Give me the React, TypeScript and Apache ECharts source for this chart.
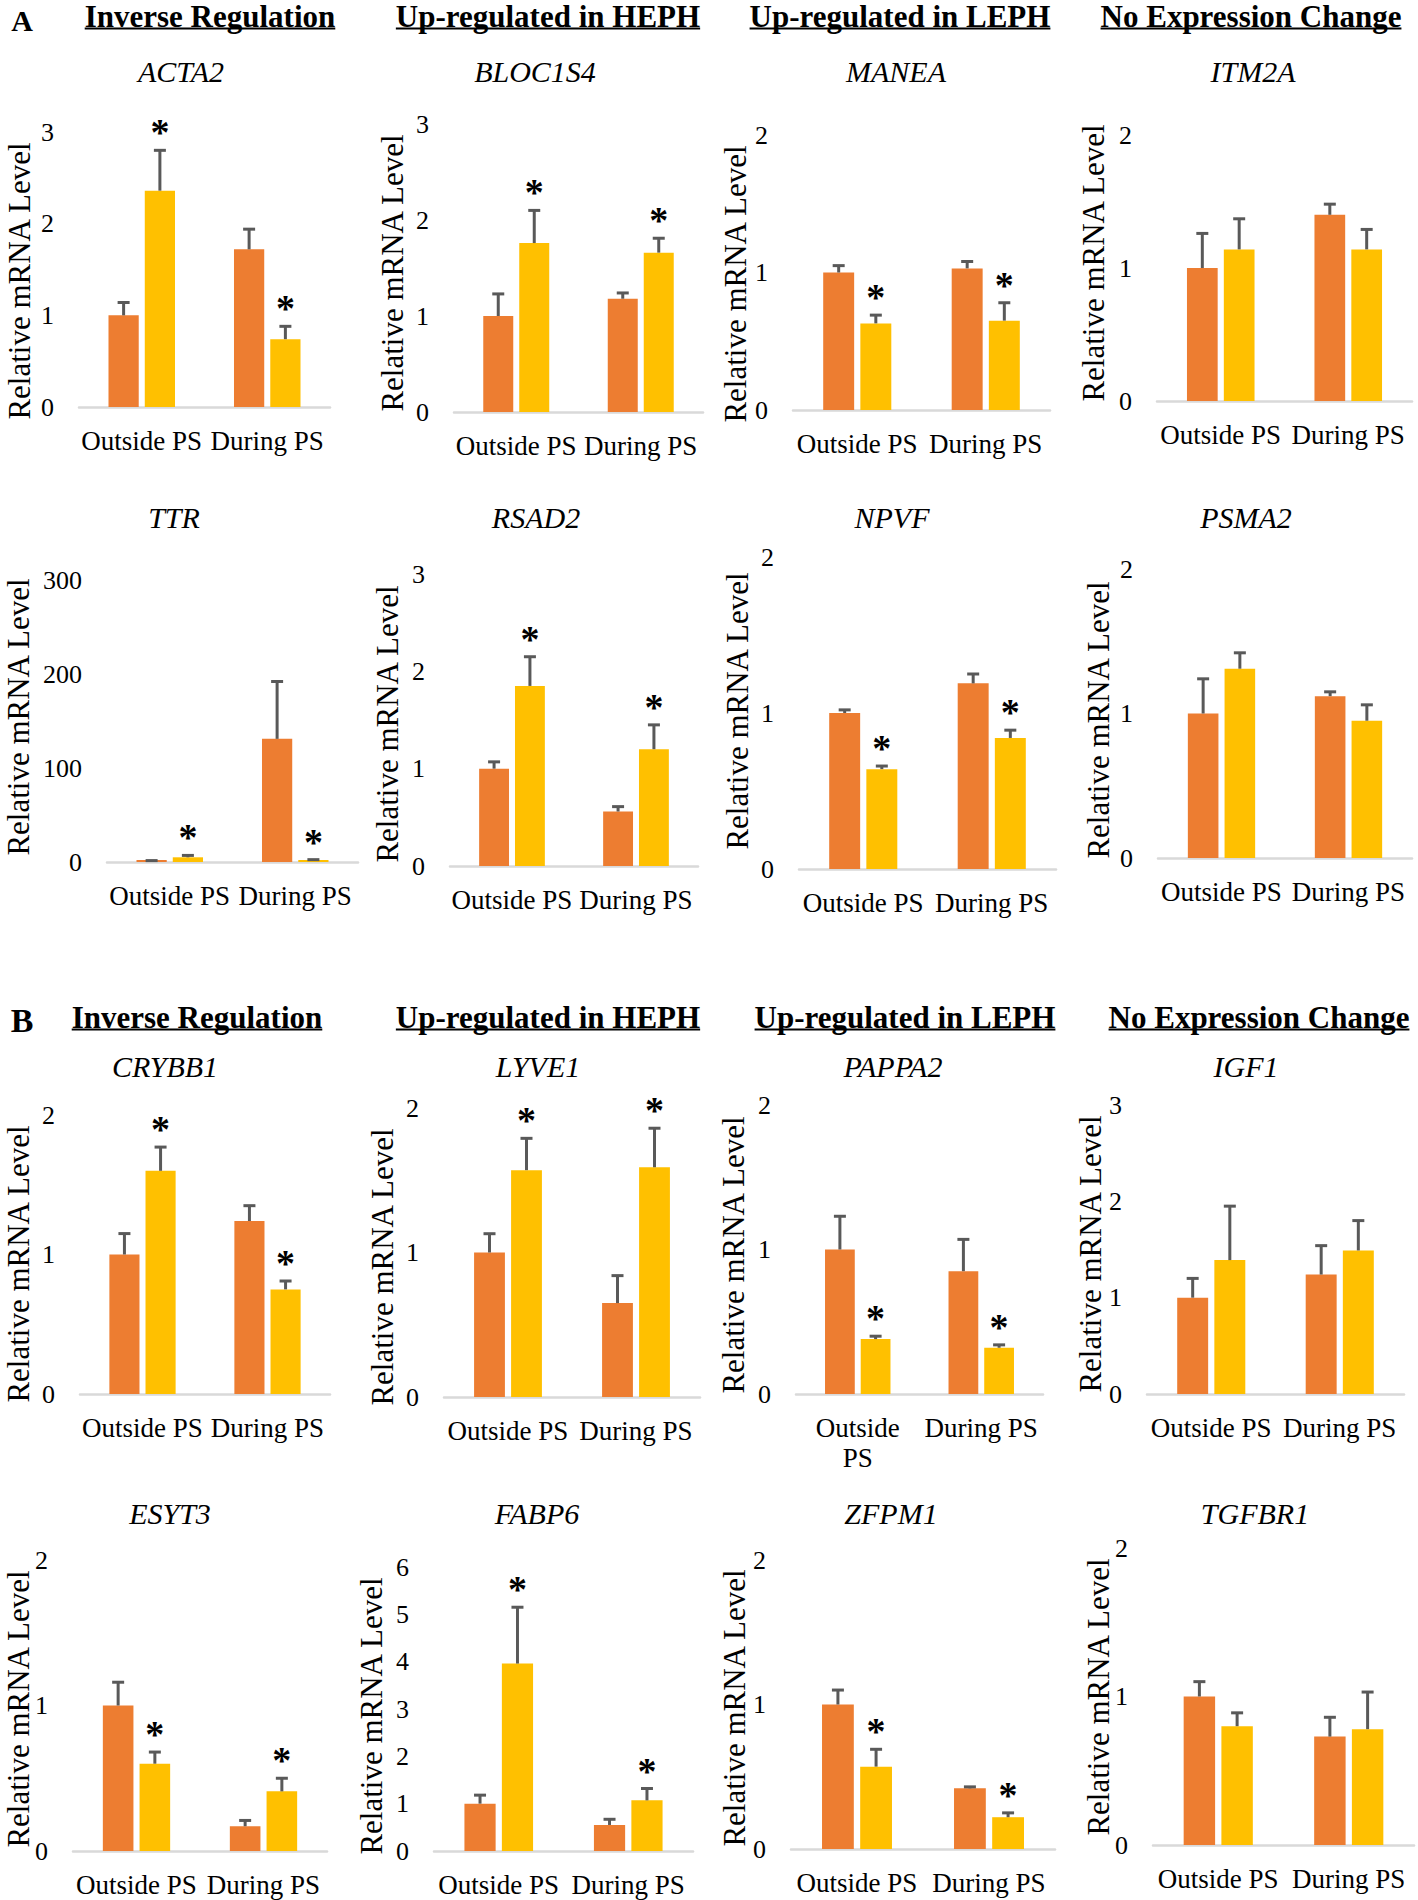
import React, { useEffect, useRef } from 'react';
import * as echarts from 'echarts';

// ---------- data ----------
const CATEGORIES = ['Outside PS', 'During PS'];
const GENES = ['ACTA2', 'BLOC1S4', 'MANEA', 'ITM2A', 'TTR', 'RSAD2', 'NPVF', 'PSMA2',
  'CRYBB1', 'LYVE1', 'PAPPA2', 'IGF1', 'ESYT3', 'FABP6', 'ZFPM1', 'TGFBR1'];
const GROUP_HEADERS = ['Inverse Regulation', 'Up-regulated in HEPH', 'Up-regulated in LEPH', 'No Expression Change'];
const PANEL_LETTERS = ['A', 'B'];
const Y_NAME = 'Relative mRNA Level';
const Y_MAX = [3, 3, 2, 2, 300, 3, 2, 2, 2, 2, 2, 3, 2, 6, 2, 2];
const Y_INTERVAL = [1, 1, 1, 1, 100, 1, 1, 1, 1, 1, 1, 1, 1, 1, 1, 1];
// orange series (first bar of each pair): [Outside PS, During PS]
const ORANGE = [
  [1.0, 1.72], [1.0, 1.18], [1.0, 1.03], [1.0, 1.40],
  [1, 131], [1.0, 0.56], [1.0, 1.19], [1.0, 1.12],
  [1.0, 1.24], [1.0, 0.65], [1.0, 0.85], [1.0, 1.24],
  [1.0, 0.17], [1.0, 0.55], [1.0, 0.42], [1.0, 0.73],
];
const ORANGE_ERR = [
  [0.14, 0.22], [0.23, 0.06], [0.05, 0.05], [0.26, 0.08],
  [0.5, 61], [0.07, 0.05], [0.02, 0.06], [0.24, 0.03],
  [0.15, 0.11], [0.13, 0.19], [0.23, 0.22], [0.20, 0.30],
  [0.16, 0.04], [0.18, 0.12], [0.10, 0.01], [0.10, 0.13],
];
// yellow series (second bar of each pair)
const YELLOW = [
  [2.36, 0.74], [1.76, 1.66], [0.63, 0.65], [1.14, 1.14],
  [5, 2], [1.85, 1.20], [0.64, 0.84], [1.31, 0.95],
  [1.60, 0.75], [1.57, 1.59], [0.38, 0.32], [1.39, 1.49],
  [0.60, 0.41], [3.96, 1.07], [0.57, 0.22], [0.80, 0.78],
];
const YELLOW_ERR = [
  [0.44, 0.14], [0.34, 0.15], [0.06, 0.13], [0.23, 0.15],
  [2, 0.5], [0.30, 0.25], [0.02, 0.05], [0.11, 0.11],
  [0.17, 0.06], [0.22, 0.27], [0.02, 0.02], [0.56, 0.31],
  [0.08, 0.09], [1.19, 0.25], [0.12, 0.03], [0.09, 0.25],
];
// significance asterisk on yellow bars
const YELLOW_SIG = [1, 1, 1, 0, 1, 1, 1, 0, 1, 1, 1, 0, 1, 1, 1, 0];
const WRAPPED_LABEL_PANEL = 10; // PAPPA2: "Outside PS" wraps

// ---------- layout ----------
// [left x, right x, y of max tick, y of zero]
const GRID = [
  [79, 330, 132, 407], [454, 703, 124, 412], [793, 1050, 135, 410], [1157, 1412, 135, 401],
  [107, 358, 580, 862], [450, 698, 574, 866], [799, 1056, 557, 869], [1158, 1412, 569, 858],
  [80, 330, 1115, 1394], [444, 700, 1108, 1397], [796, 1043, 1105, 1394], [1147, 1404, 1105, 1394],
  [73, 327, 1560, 1851], [434, 693, 1567, 1852], [791, 1055, 1560, 1849], [1153, 1414, 1548, 1845],
];
const TITLE_POS = [
  [181, 71], [535, 71], [896, 71], [1253, 71],
  [174, 517], [536, 517], [892, 517], [1246, 517],
  [165, 1066], [538, 1066], [893, 1066], [1246, 1066],
  [170, 1513], [537, 1513], [891, 1513], [1255, 1513],
];
const YNAME_POS = [
  [19, 281], [392, 273], [735, 284], [1093, 263],
  [18, 717], [387, 724], [737, 711], [1098, 720],
  [18, 1264], [382, 1267], [733, 1255], [1090, 1254],
  [18, 1709], [371, 1716], [734, 1708], [1098, 1697],
];
const HEADER_X = [[210, 548, 900, 1251], [197, 548, 905, 1259]];
const HEADER_Y = [16, 1017];
const LETTER_POS = [[22, 20], [22, 1020]];
const LETTER_SIZE = [30, 34];

const FONT = 'Liberation Serif';
const C_ORANGE = '#ED7D31';
const C_YELLOW = '#FFC000';
const C_ERR = '#595959';
const BAR_CAT_GAP = 0.47;
const BAR_GAP = 0.2;

function measure(text: string, font: string): number {
  const c = document.createElement('canvas').getContext('2d');
  if (!c) return text.length * 15;
  c.font = font;
  return c.measureText(text).width;
}

function buildOption() {
  const grid: any[] = [];
  const xAxis: any[] = [];
  const yAxis: any[] = [];
  const series: any[] = [];
  const graphic: any[] = [];

  GENES.forEach((gene, i) => {
    const [l, r, t, b] = GRID[i];
    grid.push({ left: l, top: t, width: r - l, height: b - t, containLabel: false });
    const cats = i === WRAPPED_LABEL_PANEL ? ['Outside\nPS', CATEGORIES[1]] : CATEGORIES;
    xAxis.push({
      gridIndex: i, type: 'category', data: cats,
      axisLine: { show: true, lineStyle: { color: '#d9d9d9', width: 2.5 } },
      axisTick: { show: false },
      axisLabel: { interval: 0, color: '#000', fontFamily: FONT, fontSize: 27, margin: 19, lineHeight: 30 },
    });
    yAxis.push({
      gridIndex: i, type: 'value', min: 0, max: Y_MAX[i], interval: Y_INTERVAL[i],
      axisLine: { show: false }, axisTick: { show: false }, splitLine: { show: false },
      axisLabel: { color: '#000', fontFamily: FONT, fontSize: 26, margin: 25 },
    });
    const common = {
      type: 'bar', xAxisIndex: i, yAxisIndex: i, barCategoryGap: `${BAR_CAT_GAP * 100}%`,
      barGap: `${BAR_GAP * 100}%`, barMinHeight: 2, silent: true,
    };
    series.push({ ...common, name: gene + '-o', data: ORANGE[i], itemStyle: { color: C_ORANGE } });
    series.push({ ...common, name: gene + '-y', data: YELLOW[i], itemStyle: { color: C_YELLOW } });
    const errData: any[] = [];
    [0, 1].forEach((c) => {
      errData.push([c, 0, ORANGE[i][c], ORANGE_ERR[i][c], 0]);
      errData.push([c, 1, YELLOW[i][c], YELLOW_ERR[i][c], YELLOW_SIG[i]]);
    });
    series.push({
      type: 'custom', xAxisIndex: i, yAxisIndex: i, silent: true, z: 5,
      encode: { x: 0, y: 2 },
      data: errData,
      renderItem: (params: any, api: any) => {
        const cat = api.value(0);
        const s = api.value(1);
        const v = api.value(2);
        const e = api.value(3);
        const sig = api.value(4);
        const band = params.coordSys.width / 2;
        const w = (band * (1 - BAR_CAT_GAP)) / (2 + BAR_GAP);
        const dx = (s === 0 ? -1 : 1) * (w / 2 + (BAR_GAP * w) / 2);
        const p0 = api.coord([cat, v]);
        const p1 = api.coord([cat, v + e]);
        const x = p0[0] + dx;
        const children: any[] = [
          { type: 'line', shape: { x1: x, y1: p0[1], x2: x, y2: p1[1] }, style: { stroke: C_ERR, lineWidth: 3 } },
          { type: 'line', shape: { x1: x - 6, y1: p1[1], x2: x + 6, y2: p1[1] }, style: { stroke: C_ERR, lineWidth: 3 } },
        ];
        if (sig) {
          children.push({
            type: 'text', x, y: p1[1] - 18,
            style: {
              text: '*', fontFamily: FONT, fontWeight: 'bold', fontSize: 38, fill: '#000',
              align: 'center', verticalAlign: 'middle', textAlign: 'center', textVerticalAlign: 'middle',
            },
          });
        }
        return { type: 'group', children };
      },
    });

    // gene title
    graphic.push({
      type: 'text', x: TITLE_POS[i][0], y: TITLE_POS[i][1], silent: true,
      style: {
        text: gene, fontFamily: FONT, fontStyle: 'italic', fontSize: 30, fill: '#000',
        align: 'center', verticalAlign: 'middle', textAlign: 'center', textVerticalAlign: 'middle',
      },
    });
    // y axis name
    graphic.push({
      type: 'text', x: YNAME_POS[i][0], y: YNAME_POS[i][1], rotation: Math.PI / 2, silent: true,
      style: {
        text: Y_NAME, fontFamily: FONT, fontSize: 31, fill: '#000',
        align: 'center', verticalAlign: 'middle', textAlign: 'center', textVerticalAlign: 'middle',
      },
    });
  });

  // panel letters and group headers
  PANEL_LETTERS.forEach((letter, p) => {
    graphic.push({
      type: 'text', x: LETTER_POS[p][0], y: LETTER_POS[p][1], silent: true,
      style: {
        text: letter, fontFamily: FONT, fontWeight: 'bold', fontSize: LETTER_SIZE[p], fill: '#000',
        align: 'center', verticalAlign: 'middle', textAlign: 'center', textVerticalAlign: 'middle',
      },
    });
    GROUP_HEADERS.forEach((h, k) => {
      const cx = HEADER_X[p][k];
      const cy = HEADER_Y[p];
      graphic.push({
        type: 'text', x: cx, y: cy, silent: true,
        style: {
          text: h, fontFamily: FONT, fontWeight: 'bold', fontSize: 31, fill: '#000',
          align: 'center', verticalAlign: 'middle', textAlign: 'center', textVerticalAlign: 'middle',
        },
      });
      const wdt = measure(h, `bold 31px "${FONT}"`);
      graphic.push({
        type: 'line', silent: true,
        shape: { x1: cx - wdt / 2, y1: cy + 12.5, x2: cx + wdt / 2, y2: cy + 12.5 },
        style: { stroke: '#000', lineWidth: 2 },
      });
    });
  });

  return {
    animation: false,
    backgroundColor: '#fff',
    grid, xAxis, yAxis, series, graphic,
  };
}

export default function App() {
  const ref = useRef<HTMLDivElement>(null);
  useEffect(() => {
    if (!ref.current) return;
    const chart = echarts.init(ref.current, undefined, { renderer: 'svg' });
    chart.setOption(buildOption() as any);
    return () => chart.dispose();
  }, []);
  return (
    <div
      ref={ref}
      style={{ position: 'absolute', left: 0, top: 0, width: 1418, height: 1900, background: '#fff' }}
    />
  );
}
